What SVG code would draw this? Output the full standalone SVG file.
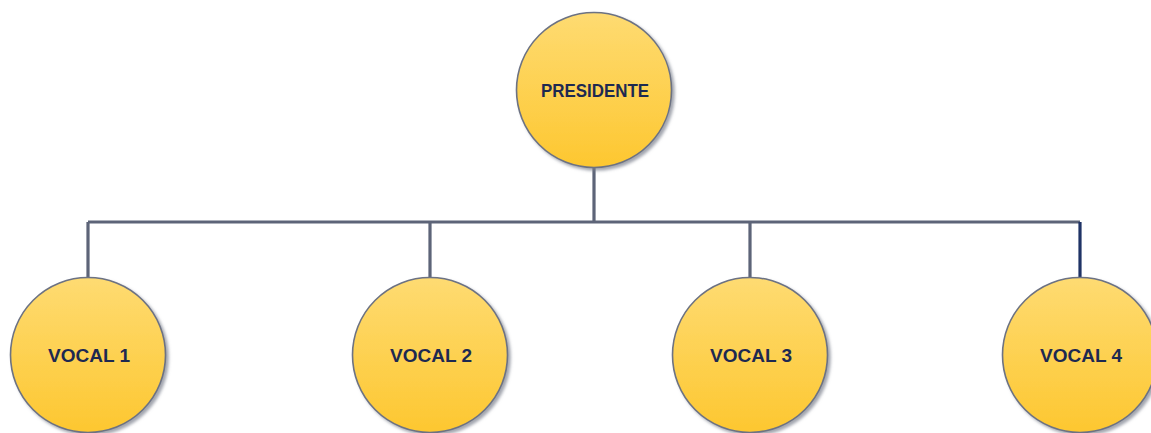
<svg xmlns="http://www.w3.org/2000/svg" width="1151" height="433" viewBox="0 0 1151 433">
<style>
.node{fill:url(#g);stroke:#6c7283;stroke-width:1.6;filter:url(#sh)}
.lbl{font-family:"Liberation Sans",Arial,sans-serif;font-weight:bold;font-size:18px;fill:#1d2951;text-anchor:middle}
.con{fill:none;stroke:#5d6478;stroke-width:3.2}
</style>
<defs>
<linearGradient id="g" x1="0" y1="0" x2="0" y2="1">
<stop offset="0" stop-color="#fedb72"/>
<stop offset="1" stop-color="#fdc730"/>
</linearGradient>
<filter id="sh" x="-20%" y="-20%" width="150%" height="150%">
<feDropShadow dx="2.5" dy="2.5" stdDeviation="1.5" flood-color="#7a7f8c" flood-opacity="0.7"/>
</filter>
</defs>
<rect width="1151" height="433" fill="#ffffff"/>
<g id="connectors">
<path class="con" d="M594 168 V222 M88 222 H1080 M88 222 V278 M430 222 V278 M750 222 V278"/>
<path d="M1080 222 V278" fill="none" stroke="#1f3366" stroke-width="3.2"/>
</g>
<g id="presidente">
<circle class="node" cx="594" cy="90" r="77.5"/>
<text class="lbl" x="595" y="97" textLength="108" lengthAdjust="spacingAndGlyphs">PRESIDENTE</text>
</g>
<g id="vocal1">
<circle class="node" cx="88" cy="355" r="77.5"/>
<text class="lbl" x="89" y="362" textLength="82" lengthAdjust="spacingAndGlyphs">VOCAL 1</text>
</g>
<g id="vocal2">
<circle class="node" cx="430" cy="355" r="77.5"/>
<text class="lbl" x="431" y="362" textLength="82" lengthAdjust="spacingAndGlyphs">VOCAL 2</text>
</g>
<g id="vocal3">
<circle class="node" cx="750" cy="355" r="77.5"/>
<text class="lbl" x="751" y="362" textLength="82" lengthAdjust="spacingAndGlyphs">VOCAL 3</text>
</g>
<g id="vocal4">
<circle class="node" cx="1080" cy="355" r="77.5"/>
<text class="lbl" x="1081" y="362" textLength="82" lengthAdjust="spacingAndGlyphs">VOCAL 4</text>
</g>
</svg>
